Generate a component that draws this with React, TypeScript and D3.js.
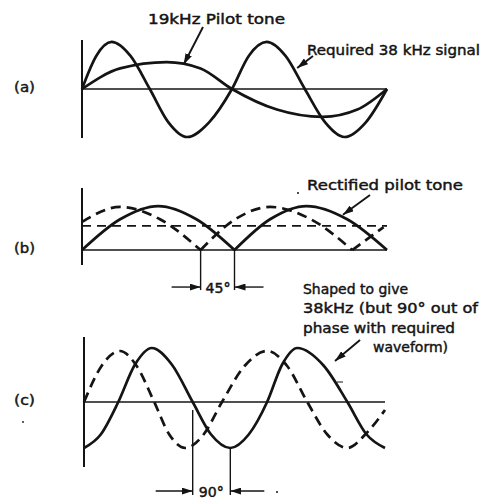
import React from "react";
import * as d3 from "d3";

const W = 481;
const H = 499;

// x: phase of the 19 kHz pilot in degrees, y: relative amplitude
// (a) pilot and required 38 kHz signal
const pilotTone: [number, number][] = [
  [0, 0], [45, 0.42], [100, 0.55], [140, 0.42], [177, 0],
  [230, -0.42], [284, -0.57], [325, -0.42], [360, 0],
];
const signal38: [number, number][] = [
  [0, 0], [17, 0.68], [35, 0.96], [57, 0.68], [80, 0],
  [102, -0.68], [124, -0.98], [150, -0.68], [177, 0],
  [197, 0.68], [218, 0.96], [240, 0.68], [263, 0],
  [287, -0.68], [310, -0.98], [335, -0.68], [360, 0],
];

// (b) rectified pilot (solid) and the same shifted by 45 deg (dashed)
const rectSolid: [number, number][][] = [
  [[0, 0], [45, 0.7], [90, 1], [135, 0.7], [180, 0]],
  [[180, 0], [222, 0.7], [265, 1], [313, 0.7], [360, 0]],
];
const rectDashed: [number, number][][] = [
  [[0, 0.64], [45, 0.98], [92, 0.7], [140, 0]],
  [[140, 0], [181, 0.7], [222, 0.98], [270, 0.7], [319, 0]],
  [[319, 0], [356, 0.52]],
];
const rectMean = 0.55;

// (c) shaped 38 kHz (solid) vs required waveform (dashed)
const shapedSolid: [number, number][] = [
  [0, -0.92], [20, -0.65], [41, 0], [61, 0.75], [81, 1.08], [105, 0.75],
  [130, 0], [152, -0.65], [175, -0.92], [197, -0.65], [219, 0],
  [237, 0.75], [255, 1.08], [287, 0.72], [315, 0], [338, -0.65], [360, -0.92],
];
const shapedDashed: [number, number][] = [
  [0, 0], [21, 0.72], [43, 1.02], [63, 0.72], [84, 0], [102, -0.65],
  [121, -0.92], [143, -0.65], [165, 0], [192, 0.72], [219, 1.02],
  [243, 0.72], [267, 0], [291, -0.65], [315, -0.92], [338, -0.62], [360, -0.16],
];

const ink = "#141414";
const font = "'DejaVu Sans', sans-serif";

const xA = d3.scaleLinear().domain([0, 360]).range([82, 387]);
const yA = d3.scaleLinear().domain([-1, 1]).range([138, 40]);
const xB = d3.scaleLinear().domain([0, 360]).range([82, 387]);
const yB = d3.scaleLinear().domain([-0.34, 1.41]).range([265, 188]);
const xC = d3.scaleLinear().domain([0, 360]).range([84, 385]);
const yC = d3.scaleLinear().domain([-1.3, 1.3]).range([467, 337]);

const mkLine = (x, y) =>
  d3
    .line<[number, number]>()
    .x((d) => x(d[0]))
    .y((d) => y(d[1]))
    .curve(d3.curveMonotoneX);

// scanned lettering is a bit heavier than the regular face, so add a thin outline
const Label = ({ x, y, len, children }) => (
  <text
    x={x}
    y={y}
    textLength={len}
    lengthAdjust="spacingAndGlyphs"
    fontFamily={font}
    fontSize={14}
    fill={ink}
    stroke={ink}
    strokeWidth={0.45}
  >
    {children}
  </text>
);

const Frame = ({ x, y }) => {
  const [d0, d1] = y.domain();
  return (
    <g stroke={ink}>
      <line x1={x(0)} x2={x(0)} y1={y(d0)} y2={y(d1)} strokeWidth={2} />
      <line x1={x(0)} x2={x(360)} y1={y(0)} y2={y(0)} strokeWidth={1.4} />
    </g>
  );
};

const App = () => {
  const lineA = mkLine(xA, yA);
  const lineB = mkLine(xB, yB);
  const lineC = mkLine(xC, yC);
  const dash = "10,6";
  const curve = { fill: "none", stroke: ink, strokeWidth: 2.7 };
  const leader = { stroke: ink, strokeWidth: 1.9, markerEnd: "url(#ah)" };

  const bY = yB(0);
  return (
    <svg width={W} height={H} style={{ position: "absolute", left: 0, top: 0, background: "#fff" }}>
      <defs>
        <marker id="ah" viewBox="0 0 11 7" refX={11} refY={3.5} markerWidth={11} markerHeight={7} markerUnits="userSpaceOnUse" orient="auto">
          <path d="M0,0 L11,3.5 L0,7 z" fill={ink} />
        </marker>
      </defs>

      {/* (a) */}
      <Frame x={xA} y={yA} />
      <path d={lineA(pilotTone)} {...curve} />
      <path d={lineA(signal38)} {...curve} />
      <Label x={148} y={24} len={137}>19kHz  Pilot tone</Label>
      <Label x={307} y={55} len={173}>Required 38 kHz  signal</Label>
      <line x1={203} y1={27} x2={xA(120)} y2={yA(0.5)} {...leader} />
      <line x1={313} y1={56} x2={xA(254)} y2={yA(0.43)} {...leader} />
      <Label x={14} y={92} len={21}>(a)</Label>

      {/* (b) */}
      <Frame x={xB} y={yB} />
      <line x1={xB(0)} x2={xB(360)} y1={yB(rectMean)} y2={yB(rectMean)} stroke={ink} strokeWidth={1.8} strokeDasharray="9,6" />
      {rectSolid.map((h, i) => (
        <path key={"s" + i} d={lineB(h)} {...curve} />
      ))}
      {rectDashed.map((h, i) => (
        <path key={"d" + i} d={lineB(h)} {...curve} strokeDasharray={dash} />
      ))}
      <Label x={307} y={190} len={156}>Rectified  pilot  tone</Label>
      <circle cx={298} cy={193} r={1} fill={ink} />
      <line x1={370} y1={195} x2={xB(308)} y2={yB(0.8)} {...leader} />
      <Label x={14} y={253} len={21}>(b)</Label>
      <g stroke={ink} strokeWidth={1.4}>
        <line x1={xB(140)} x2={xB(140)} y1={bY} y2={bY + 40} />
        <line x1={xB(180)} x2={xB(180)} y1={bY} y2={bY + 40} />
        <line x1={xB(140) - 29} x2={xB(140)} y1={bY + 37} y2={bY + 37} markerEnd="url(#ah)" />
        <line x1={xB(180) + 29} x2={xB(180)} y1={bY + 37} y2={bY + 37} markerEnd="url(#ah)" />
      </g>
      <Label x={xB(140) + 5} y={bY + 43} len={25}>45°</Label>

      {/* (c) */}
      <Label x={303} y={294} len={105}>Shaped to give</Label>
      <Label x={303} y={313} len={175}>38kHz (but 90° out of</Label>
      <Label x={303} y={333} len={152}>phase with required</Label>
      <Label x={373} y={352} len={75}>waveform)</Label>
      <line x1={360} y1={340} x2={335} y2={361} {...leader} />
      <Frame x={xC} y={yC} />
      <path d={lineC(shapedSolid)} {...curve} />
      <path d={lineC(shapedDashed)} {...curve} strokeDasharray={dash} />
      <Label x={14} y={405} len={21}>(c)</Label>
      <circle cx={23} cy={422} r={0.9} fill={ink} />
      <line x1={337} x2={343} y1={382} y2={382} stroke={ink} strokeWidth={1} />
      <g stroke={ink} strokeWidth={1.4}>
        <line x1={xC(130)} x2={xC(130)} y1={yC(0) + 8} y2={495} />
        <line x1={xC(175)} x2={xC(175)} y1={yC(-0.92)} y2={495} />
        <line x1={xC(130) - 37} x2={xC(130)} y1={491} y2={491} markerEnd="url(#ah)" />
        <line x1={xC(175) + 34} x2={xC(175)} y1={491} y2={491} markerEnd="url(#ah)" />
      </g>
      <circle cx={277} cy={492} r={1} fill={ink} />
      <Label x={xC(130) + 6} y={497} len={25}>90°</Label>
    </svg>
  );
};

export default App;
